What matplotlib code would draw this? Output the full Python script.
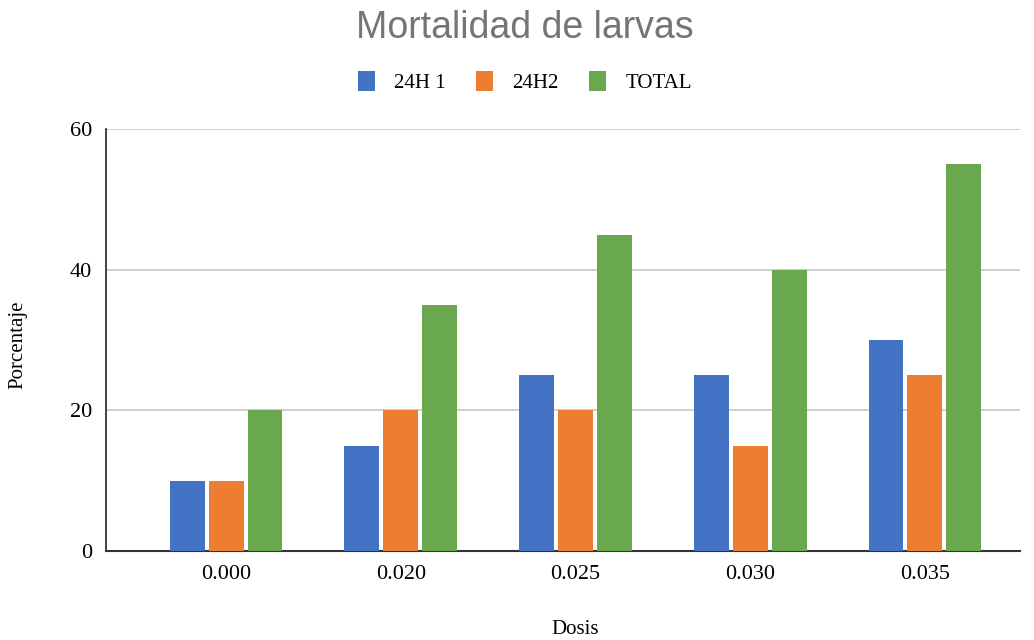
import numpy as np
import matplotlib
matplotlib.use("Agg")
import matplotlib.pyplot as plt
from matplotlib.patches import Patch

# data
dosis = ["0.000", "0.020", "0.025", "0.030", "0.035"]
h24_1 = [10, 15, 25, 25, 30]
h24_2 = [10, 20, 20, 15, 25]
total = [20, 35, 45, 40, 55]
series_names = ["24H 1", "24H2", "TOTAL"]
colors = ["#4472C4", "#ED7D31", "#6AA84F"]

serif = ["Liberation Serif", "DejaVu Serif"]

fig = plt.figure(figsize=(10.34, 6.4), dpi=100)
ax = fig.add_axes([106/1034, 1-551/640, (1020-106)/1034, (551-129)/640])

x = np.arange(len(dosis))
w = 0.2
step = 0.223
for i, vals in enumerate([h24_1, h24_2, total]):
    ax.bar(x + (i-1)*step, vals, width=w, color=colors[i], zorder=3)

ax.set_xlim(-0.687, 4.544)
ax.set_ylim(0, 60)
ax.set_yticks([0, 20, 40, 60])
ax.set_xticks(x)
ax.set_xticklabels(dosis)
ax.grid(axis="y", color="#CCCCCC", linewidth=1.3, zorder=0)
for s in ["top", "right"]:
    ax.spines[s].set_visible(False)
ax.spines["left"].set_color("#222222")
ax.spines["bottom"].set_color("#333333")
ax.spines["left"].set_linewidth(1.2)
ax.spines["bottom"].set_linewidth(1.5)
ax.tick_params(length=0, labelsize=16, pad=10)
for lab in ax.get_xticklabels() + ax.get_yticklabels():
    lab.set_family(serif)

fig.text(525/1034, 1-28/640, "Mortalidad de larvas", ha="center", va="center",
         fontsize=27, color="#757575", family=["Liberation Sans", "DejaVu Sans"])

handles = [Patch(facecolor=c, edgecolor="none") for c in colors]
fig.legend(handles, series_names, loc="center", bbox_to_anchor=(525/1034, 1-82/640),
           ncol=3, frameon=False, prop={"family": serif, "size": 15},
           handlelength=0.8, handleheight=1.1, columnspacing=1.45, handletextpad=0.95)

fig.text(575/1034, 1-630/640, "Dosis", ha="center", va="center", fontsize=15, family=serif)
fig.text(18/1034, 1-345/640, "Porcentaje", ha="center", va="center", fontsize=15,
         family=serif, rotation=90)

fig.savefig("out.png", dpi=100)
